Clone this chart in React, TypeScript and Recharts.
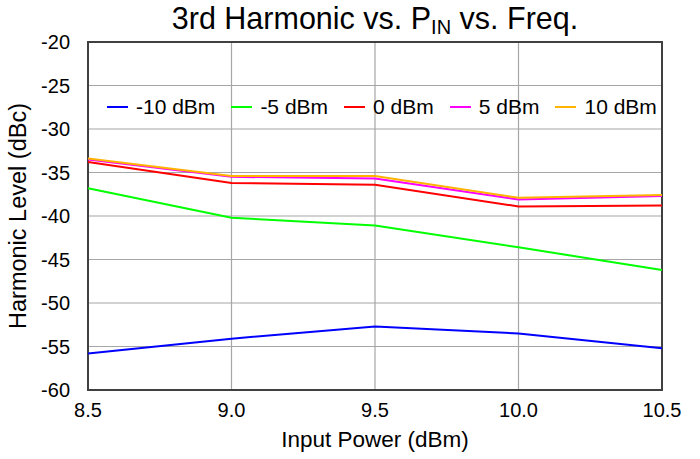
import { LineChart, Line, XAxis, YAxis, CartesianGrid, ReferenceArea } from "recharts";

// Input power (dBm) on x axis
const inputPower = [8.5, 9.0, 9.5, 10.0, 10.5];

// Harmonic level (dBc) per input level series
const minus10 = [-55.8, -54.1, -52.7, -53.5, -55.2];
const minus5 = [-36.8, -40.2, -41.1, -43.6, -46.2];
const zero = [-33.8, -36.2, -36.4, -38.9, -38.8];
const plus5 = [-33.5, -35.5, -35.7, -38.1, -37.7];
const plus10 = [-33.4, -35.4, -35.4, -37.9, -37.6];

const yTicks = [-20, -25, -30, -35, -40, -45, -50, -55, -60];

const SERIES = [
  { key: "m10", name: "-10 dBm", color: "#0000ff", values: minus10 },
  { key: "m5", name: "-5 dBm", color: "#00ff00", values: minus5 },
  { key: "z0", name: "0 dBm", color: "#ff0000", values: zero },
  { key: "p5", name: "5 dBm", color: "#ff00ff", values: plus5 },
  { key: "p10", name: "10 dBm", color: "#ffb300", values: plus10 },
];

const data = inputPower.map((x, i) => {
  const row: Record<string, number> = { x };
  SERIES.forEach((s) => {
    row[s.key] = s.values[i];
  });
  return row;
});

const FONT = '"Liberation Sans", Arial, sans-serif';

// legend sits inside the plot, top area
const LegendBox = () => (
  <div
    style={{
      position: "absolute",
      left: 107,
      top: 95,
      display: "flex",
      alignItems: "center",
      fontFamily: FONT,
      fontSize: 21,
      color: "#000",
      whiteSpace: "nowrap",
    }}
  >
    {SERIES.map((s) => (
      <div key={s.key} style={{ display: "flex", alignItems: "center", marginRight: 16 }}>
        <span style={{ display: "inline-block", width: 21, height: 2, background: s.color, marginRight: 8 }} />
        <span>{s.name}</span>
      </div>
    ))}
  </div>
);

export default function App() {
  return (
    <div style={{ position: "absolute", left: 0, top: 0, width: 700, height: 459, background: "#fff" }}>
      <LineChart width={700} height={459} data={data} margin={{ top: 42, right: 38, bottom: 0, left: 0 }}>
        <CartesianGrid stroke="#a6a6a6" strokeWidth={1.2} />
        <XAxis
          dataKey="x"
          type="number"
          domain={[8.5, 10.5]}
          ticks={inputPower}
          tickFormatter={(v) => v.toFixed(1)}
          tickLine={false}
          axisLine={false}
          tickSize={0}
          tickMargin={13}
          height={69}
          tick={{ fill: "#000", fontSize: 20, fontFamily: FONT }}
          label={{ value: "Input Power (dBm)", position: "insideBottom", offset: 12, fill: "#000", fontSize: 22.5, fontFamily: FONT }}
        />
        <YAxis
          type="number"
          domain={[-60, -20]}
          ticks={yTicks}
          tickLine={false}
          axisLine={false}
          tickSize={0}
          tickMargin={18}
          width={88}
          interval={0}
          tick={{ fill: "#000", fontSize: 20, fontFamily: FONT }}
          label={{ value: "Harmonic Level (dBc)", angle: -90, position: "insideLeft", offset: 18, style: { textAnchor: "middle" }, fill: "#000", fontSize: 23.5, fontFamily: FONT }}
        />
        <ReferenceArea x1={8.5} x2={10.5} y1={-60} y2={-20} fill="none" stroke="#404040" strokeWidth={2} ifOverflow="visible" />
        {SERIES.map((s) => (
          <Line
            key={s.key}
            dataKey={s.key}
            name={s.name}
            stroke={s.color}
            strokeWidth={2}
            dot={false}
            isAnimationActive={false}
          />
        ))}
      </LineChart>
      <div
        style={{
          position: "absolute",
          left: 88,
          width: 574,
          top: 0,
          textAlign: "center",
          fontFamily: FONT,
          fontSize: 30.5,
          lineHeight: "36px",
          color: "#000",
        }}
      >
        3rd Harmonic vs. P<sub style={{ fontSize: 20, verticalAlign: "-5px", lineHeight: 0 }}>IN</sub> vs. Freq.
      </div>
      <LegendBox />
    </div>
  );
}
